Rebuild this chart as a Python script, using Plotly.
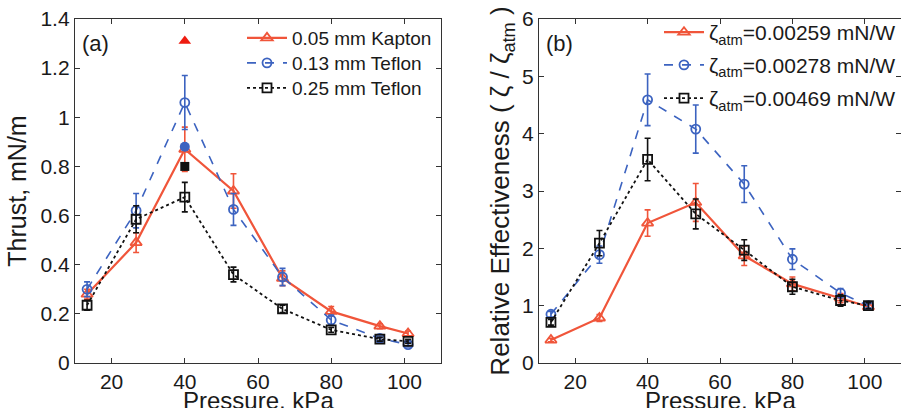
import plotly.graph_objects as go

# ---------------- data ----------------
pressure = [13.3, 26.7, 40.0, 53.3, 66.7, 80.0, 93.3, 101.0]

# (a) Thrust, mN/m
thrust_kapton = [0.28, 0.49, 0.87, 0.70, 0.345, 0.21, 0.15, 0.12]
thrust_kapton_err = [0.02, 0.04, 0.09, 0.07, 0.03, 0.02, 0.01, 0.01]
thrust_t13 = [0.30, 0.62, 1.06, 0.625, 0.35, 0.175, 0.10, 0.075]
thrust_t13_err = [0.03, 0.07, 0.11, 0.065, 0.035, 0.02, 0.01, 0.01]
thrust_t25 = [0.235, 0.585, 0.675, 0.36, 0.22, 0.135, 0.097, 0.088]
thrust_t25_err = [0.02, 0.055, 0.06, 0.03, 0.015, 0.01, 0.008, 0.008]
# filled markers at 40 kPa
peak_x = [40.0]
peak_kapton = [1.31]
peak_t13 = [0.88]
peak_t25 = [0.80]

# (b) Relative effectiveness
eff_kapton = [0.40, 0.785, 2.44, 2.80, 1.87, 1.38, 1.13, 0.98]
eff_kapton_err = [0.03, 0.06, 0.23, 0.33, 0.17, 0.12, 0.08, 0.04]
eff_t13 = [0.85, 1.89, 4.59, 4.08, 3.12, 1.81, 1.22, 1.0]
eff_t13_err = [0.05, 0.15, 0.45, 0.42, 0.32, 0.18, 0.08, 0.04]
eff_t25 = [0.71, 2.09, 3.55, 2.60, 1.97, 1.33, 1.09, 1.0]
eff_t25_err = [0.05, 0.22, 0.37, 0.26, 0.18, 0.13, 0.10, 0.05]

names_a = ["0.05 mm Kapton", "0.13 mm Teflon", "0.25 mm Teflon"]
names_b = ["ζ<sub>atm</sub>=0.00259 mN/W", "ζ<sub>atm</sub>=0.00278 mN/W", "ζ<sub>atm</sub>=0.00469 mN/W"]

x_ticks = [20, 40, 60, 80, 100]

# ---------------- style ----------------
RED = "#f0553a"
RED_FILL = "#ee1c10"
BLUE = "#3c63c0"
BLACK = "#111111"
TXT = "#1a1a1a"
FONT = "Liberation Sans, Arial, sans-serif"

styles = [
    dict(color=RED, dash="solid", width=2.2, symbol="triangle-up-open", size=10),
    dict(color=BLUE, dash="dash", width=1.6, symbol="circle-open", size=9),
    dict(color=BLACK, dash="dot", width=1.8, symbol="square-open", size=9),
]

fig = go.Figure()

def add_series(x, y, err, name, st, xa, ya, legend):
    fig.add_trace(go.Scatter(
        x=x, y=y, name=name, mode="lines+markers",
        line=dict(color=st["color"], dash=st["dash"], width=st["width"]),
        marker=dict(symbol=st["symbol"], size=st["size"], color=st["color"],
                    line=dict(width=1.8, color=st["color"])),
        error_y=dict(type="data", array=err, visible=True, color=st["color"],
                     thickness=1.6, width=3),
        xaxis=xa, yaxis=ya, legend=legend,
    ))

for i, (y, e, n, st) in enumerate(zip([thrust_kapton, thrust_t13, thrust_t25],
                                      [thrust_kapton_err, thrust_t13_err, thrust_t25_err],
                                      names_a, styles)):
    add_series(pressure, y, e, n, st, "x", "y", "legend" if i == 0 else f"legend{i+1}")

for i, (y, e, n, st) in enumerate(zip([eff_kapton, eff_t13, eff_t25],
                                      [eff_kapton_err, eff_t13_err, eff_t25_err],
                                      names_b, styles)):
    add_series(pressure, y, e, n, st, "x2", "y2", f"legend{i+4}")

# filled peak markers on panel (a)
for yv, sym, col, sz in [(peak_kapton, "triangle-up", RED_FILL, 11),
                         (peak_t13, "circle", BLUE, 10),
                         (peak_t25, "square", BLACK, 9)]:
    fig.add_trace(go.Scatter(x=peak_x, y=yv, mode="markers", showlegend=False,
                             marker=dict(symbol=sym, size=sz, color=col),
                             xaxis="x", yaxis="y"))

axis_common = dict(
    showline=True, linecolor="#333333", linewidth=1.3, mirror="ticks",
    ticks="inside", ticklen=5, tickwidth=1.2, tickcolor="#333333",
    showgrid=False, zeroline=False,
    tickfont=dict(family=FONT, size=21, color=TXT),
)

leg_a = dict(xanchor="left", yanchor="top", bgcolor="rgba(0,0,0,0)", itemwidth=40,
             font=dict(family=FONT, size=19, color=TXT))
leg_b = dict(xanchor="right", yanchor="top", bgcolor="rgba(0,0,0,0)", itemwidth=40,
             font=dict(family=FONT, size=21, color=TXT))

fig.update_layout(
    width=901, height=408,
    margin=dict(l=0, r=0, t=19, b=45),
    paper_bgcolor="white", plot_bgcolor="white",
    font=dict(family=FONT, color=TXT),
    xaxis=dict(domain=[75/901, 441/901], range=[10, 110], tickvals=x_ticks,
               anchor="y", **axis_common),
    yaxis=dict(domain=[0, 1], range=[0, 1.4], dtick=0.2,
               title=dict(text="Thrust, mN/m", font=dict(size=25), standoff=6),
               anchor="x", **axis_common),
    xaxis2=dict(domain=[539/901, 1.0], range=[10, 110], tickvals=x_ticks,
                anchor="y2", **axis_common),
    yaxis2=dict(domain=[0, 1], range=[0, 6], dtick=1,
                title=dict(text="Relative Effectiveness ( ζ / ζ<sub>atm</sub> )",
                           font=dict(size=26), standoff=4),
                anchor="x2", **axis_common),
    legend=dict(x=242/901, y=1.0, **leg_a),
    legend2=dict(x=242/901, y=0.9273, **leg_a),
    legend3=dict(x=242/901, y=0.8547, **leg_a),
    legend4=dict(x=1.0, y=1.0203, **leg_b),
    legend5=dict(x=1.0, y=0.9253, **leg_b),
    legend6=dict(x=1.0, y=0.8285, **leg_b),
    showlegend=True,
)

for xr in ["x domain", "x2 domain"]:
    fig.add_annotation(text="Pressure, kPa", xref=xr, yref="paper", x=0.5, y=-0.11,
                       xanchor="center", yanchor="middle", showarrow=False,
                       font=dict(family=FONT, size=24, color=TXT))

fig.add_annotation(text="(a)", xref="x domain", yref="y domain", x=0.015, y=0.93,
                   xanchor="left", yanchor="middle", showarrow=False,
                   font=dict(family=FONT, size=22, color=TXT))
fig.add_annotation(text="(b)", xref="x2 domain", yref="y2 domain", x=0.015, y=0.93,
                   xanchor="left", yanchor="middle", showarrow=False,
                   font=dict(family=FONT, size=22, color=TXT))

fig.write_html("out.html")
